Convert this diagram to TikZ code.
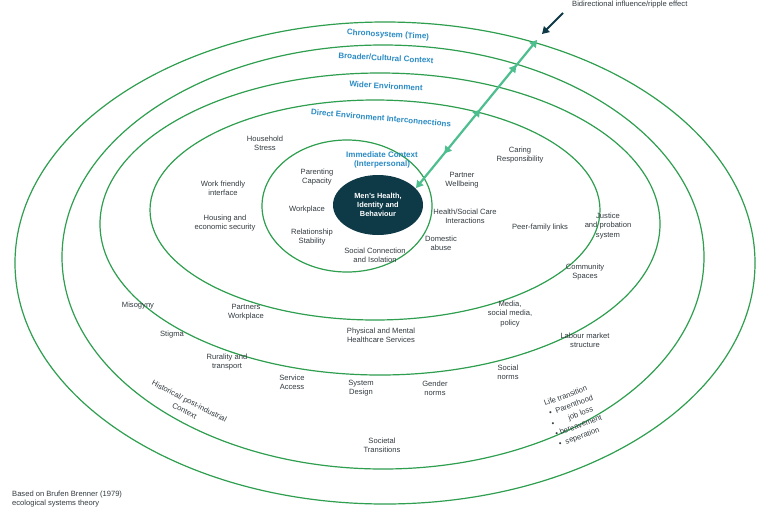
\documentclass[tikz,border=0pt]{standalone}
\usepackage{fontspec}
\setmainfont{Liberation Sans}
\usetikzlibrary{decorations.markings,arrows.meta,shapes.geometric}
\definecolor{ring}{HTML}{2E9E4F}
\definecolor{arr}{HTML}{4DBE8E}
\definecolor{lbl}{HTML}{2B8CC4}
\definecolor{core}{HTML}{0E3A48}
\definecolor{txt}{HTML}{333B40}
\begin{document}
\begin{tikzpicture}[x=1pt,y=-1pt,
  ring/.style={draw=ring,line width=1.2pt},
  lab/.style={text=lbl,font=\fontsize{8}{9.5}\selectfont\bfseries,inner sep=0},
  t/.style={text=txt,font=\fontsize{7.6}{9.2}\selectfont,align=center,inner sep=0}]
\useasboundingbox (0,0) rectangle (768,512);
\fill[white] (0,0) rectangle (768,512);
\draw[ring] (385,263) ellipse (370 and 241);
\draw[ring] (383,257) ellipse (321 and 212);
\draw[ring] (380,224) ellipse (280 and 151);
\draw[ring] (375,210) ellipse (225 and 110);
\draw[ring] (347,206) ellipse (85 and 66);
\node[fill=core,ellipse,minimum width=90,minimum height=60,inner sep=0] (core) at (378,205) {};
\node[text=white,font=\fontsize{7.4}{8.8}\selectfont\bfseries,align=center] (ct) at (378,205) {Men's Health,\\Identity and\\Behaviour};
% labels
\node[lab,rotate=-3] (l5) at (388,35) {Chronosystem (Time)};
\node[lab,rotate=-3] (l4) at (386,58) {Broader/Cultural Context};
\node[lab,rotate=-3] (l3) at (386,86) {Wider Environment};
\node[lab,rotate=-5] (l2) at (381,118) {Direct Environment Interconnections};
\node[lab,align=center] (l1) at (382,160) {Immediate Context\\(Interpersonal)};
% arrow
\coordinate (a0) at (416,188);
\coordinate (a1) at (537,40);
\draw[arr,line width=2.2pt,{Triangle[length=7pt,width=8pt]}-{Triangle[length=7pt,width=8pt]},
  postaction={decorate,decoration={markings,
   mark=at position 0.27 with {\arrow{Triangle[length=7pt,width=8pt,reversed]}},
   mark=at position 0.53 with {\arrow{Triangle[length=7pt,width=8pt]}},
   mark=at position 0.83 with {\arrow{Triangle[length=7pt,width=8pt]}}}}] (a0) -- (a1);
\coordinate (b0) at (563,13);
\coordinate (b1) at (542,34);
\draw[core,line width=1.8pt,-{Triangle[length=7pt,width=8pt]}] (b0) -- (b1);
\node[t,anchor=west] (bi) at (572,5) {Bidirectional influence/ripple effect};
% immediate
\node[t] at (317,177) {Parenting\\Capacity};
\node[t] at (307,210) {Workplace};
\node[t] at (312,237) {Relationship\\Stability};
\node[t] at (375,255) {Social Connection\\and Isolation};
\node[t] at (441,243) {Domestic\\abuse};
\node[t] at (465,216) {Health/Social Care\\Interactions};
\node[t] at (462,180) {Partner\\Wellbeing};
% direct
\node[t] at (265,143) {Household\\Stress};
\node[t] at (223,188) {Work friendly\\interface};
\node[t] at (225,223) {Housing and\\economic security};
\node[t] at (520,155) {Caring\\Responsibility};
\node[t] at (540,228) {Peer-family links};
% wider
\node[t] at (608,226) {Justice\\and probation\\system};
\node[t] at (585,272) {Community\\Spaces};
\node[t] at (510,314) {Media,\\social media,\\policy};
\node[t] at (246,312) {Partners\\Workplace};
\node[t] at (381,335) {Physical and Mental\\Healthcare Services};
% broader
\node[t] at (138,306) {Misogyny};
\node[t] at (172,335) {Stigma};
\node[t] at (227,362) {Rurality and\\transport};
\node[t] at (292,382) {Service\\Access};
\node[t] at (361,388) {System\\Design};
\node[t] at (435,388) {Gender\\norms};
\node[t] at (508,372) {Social\\norms};
\node[t] at (585,340) {Labour market\\structure};
% chrono
\node[t,rotate=-27,font=\fontsize{7.6}{10.5}\selectfont] at (187,406) {Historical/ post-industrial\\Context};
\node[t] at (382,445) {Societal\\Transitions};
\node[t,rotate=20,align=left,font=\fontsize{7.6}{10.8}\selectfont] at (575,416) {Life transition\\\,\textbullet\ \ Parenthood\\\textbullet\qquad job loss\\\textbullet\ bereavement\\\textbullet\ \ seperation};
\node[t,anchor=west,align=left] at (12,499) {Based on Brufen Brenner (1979)\\ecological systems theory};
\end{tikzpicture}
\end{document}
